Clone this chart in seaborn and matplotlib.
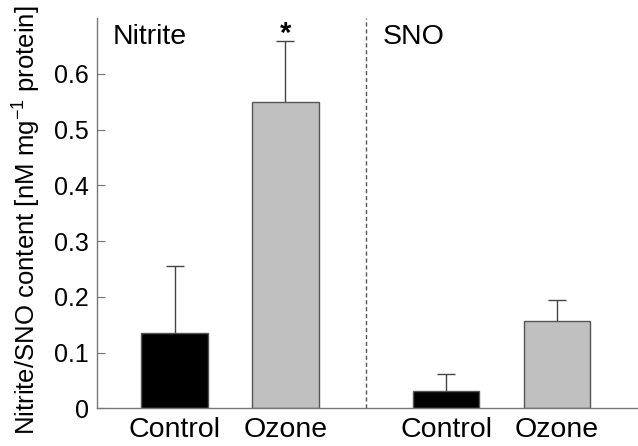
import numpy as np
import pandas as pd
import matplotlib.pyplot as plt
import seaborn as sns

# Data
groups = ["Nitrite", "Nitrite", "SNO", "SNO"]
treatments = ["Control", "Ozone", "Control", "Ozone"]
means = [0.135, 0.549, 0.031, 0.157]
sems = [0.120, 0.110, 0.031, 0.038]
significant = [False, True, False, False]

# x layout: bars within a group one unit apart, groups separated by a gap
group_step = 2.45
group_names = ["Nitrite", "SNO"]
xpos = [group_names.index(g) * group_step + ["Control", "Ozone"].index(t)
        for g, t in zip(groups, treatments)]

df = pd.DataFrame({"x": xpos, "value": means, "sem": sems,
                   "group": groups, "treatment": treatments})

sns.set_style("ticks")
plt.rcParams["font.family"] = ["Liberation Sans", "DejaVu Sans"]
plt.rcParams["mathtext.fontset"] = "custom"
plt.rcParams["mathtext.rm"] = "Liberation Sans"
plt.rcParams["mathtext.it"] = "Liberation Sans:italic"
plt.rcParams["text.color"] = "black"
plt.rcParams["axes.labelcolor"] = "black"

fig = plt.figure(figsize=(6.38, 4.46), dpi=100)
ax = fig.add_axes([0.152, 0.0845, 0.848, 0.875])

sns.barplot(data=df, x="x", y="value", hue="treatment",
            palette={"Control": "black", "Ozone": "#c0c0c0"},
            native_scale=True, dodge=False, width=0.6, errorbar=None,
            edgecolor="#555555", linewidth=1, legend=False, ax=ax, zorder=2)

# upward-only error bars
eb = ax.errorbar(df["x"], df["value"], yerr=[np.zeros(len(df)), df["sem"]],
                 fmt="none", ecolor="#444444", elinewidth=1, capsize=6.5,
                 capthick=1, zorder=1)
eb[1][0].set_visible(False)

# significance marker
for x, m, s, sig in zip(xpos, means, sems, significant):
    if sig:
        ax.text(x, m + s - 0.013, "*", ha="center", va="bottom",
                fontsize=21, fontweight="bold")

# separator between the two measures
sep = (xpos[1] + xpos[2]) / 2
ax.axvline(sep, color="#555555", linestyle=(0, (3, 2)), linewidth=1)

ax.text(-0.56, 0.69, "Nitrite", fontsize=20.5, va="top", ha="left")
ax.text(sep + 0.15, 0.69, "SNO", fontsize=20.5, va="top", ha="left")

ax.set_xlim(-0.7, 4.18)
ax.set_ylim(0, 0.7)
ax.set_yticks([0, 0.1, 0.2, 0.3, 0.4, 0.5, 0.6])
ax.set_yticklabels(["0", "0.1", "0.2", "0.3", "0.4", "0.5", "0.6"])
ax.set_xticks(xpos)
ax.set_xticklabels(treatments)
ax.tick_params(axis="y", direction="in", length=6, color="#777777",
               labelcolor="black", labelsize=18, pad=6)
ax.tick_params(axis="x", length=0, labelcolor="black", labelsize=20.5, pad=6)
ax.set_xlabel("")
ax.set_ylabel(r"Nitrite/SNO content [nM mg$^{-1}$ protein]", fontsize=18.5)
ax.yaxis.set_label_coords(-0.10, 0.482)

for side in ["top", "right"]:
    ax.spines[side].set_visible(False)
for side in ["left", "bottom"]:
    ax.spines[side].set_color("#777777")
    ax.spines[side].set_linewidth(1)

fig.savefig("out.png", dpi=100)
